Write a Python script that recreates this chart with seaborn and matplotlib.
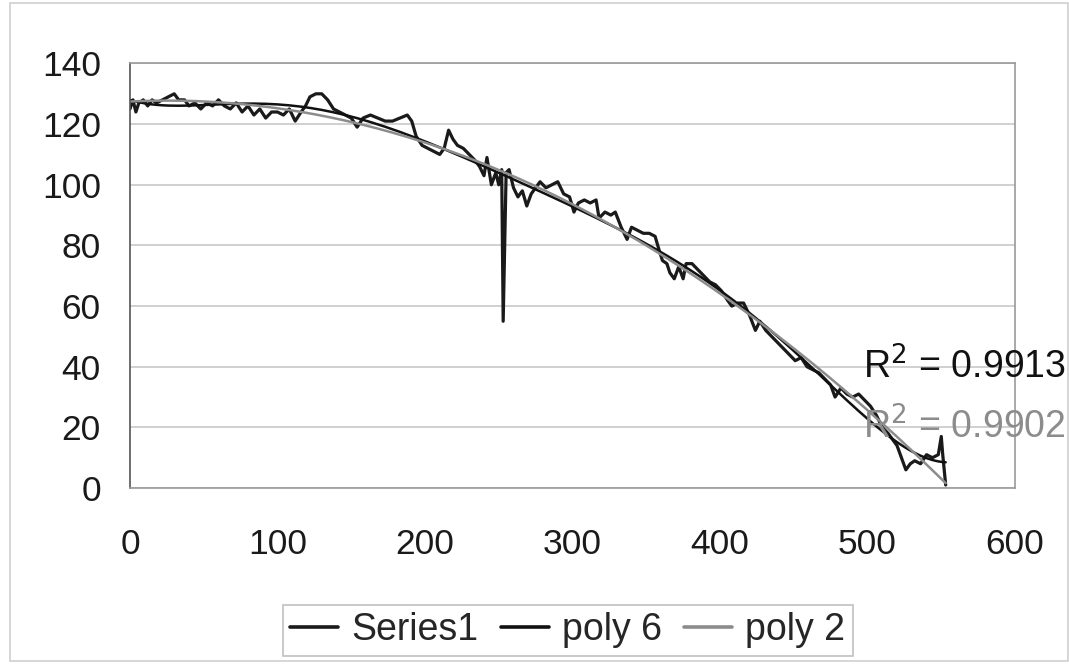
"""
Series1 with polynomial trendlines (poly 6, poly 2), Excel-style chart.
"""

import numpy as np
import pandas as pd
import matplotlib
matplotlib.use("Agg")
import matplotlib.pyplot as plt
import seaborn as sns

# Values
x_vals = [0, 2, 4, 6, 9, 12, 15, 18, 22, 26, 30, 33, 37, 40, 44, 48, 52, 56, 60, 64,
          68, 72, 76, 80, 84, 88, 92, 96, 100, 104, 108, 112, 116, 119, 122, 126, 130,
          134, 138, 142, 146, 150, 154, 158, 163, 168, 173, 178, 183, 188, 191, 194,
          198, 202, 206, 210, 213, 216, 219, 222, 226, 230, 234, 237, 240, 242, 245,
          248, 250, 252, 253, 255, 257, 260, 263, 266, 269, 272, 275, 278, 282, 286,
          290, 294, 298, 301, 304, 308, 312, 316, 318, 322, 326, 329, 333, 337, 340,
          344, 348, 352, 356, 359, 361, 364, 366, 369, 372, 375, 377, 381, 385, 389,
          393, 397, 401, 405, 408, 412, 416, 420, 424, 427, 431, 435, 439, 443, 447,
          451, 455, 459, 463, 467, 471, 475, 478, 482, 486, 490, 494, 498, 502, 506,
          510, 514, 517, 520, 523, 526, 529, 532, 536, 540, 544, 548, 550, 551, 553]
y_vals = [125, 128, 124, 127, 128, 126, 128, 127, 128, 129, 130, 128, 128, 126, 127,
          125, 127, 126, 128, 126, 125, 127, 124, 126, 123, 125, 122, 124, 124, 123,
          125, 121, 124, 126, 129, 130, 130, 128, 125, 124, 123, 122, 119, 122, 123,
          122, 121, 121, 122, 123, 121, 116, 113, 112, 111, 110, 112, 118, 115, 113,
          112, 110, 108, 106, 103, 109, 100, 104, 100, 105, 55, 104, 105, 99, 96, 98,
          93, 97, 99, 101, 99, 100, 101, 97, 96, 91, 94, 95, 94, 95, 89, 91, 90, 91,
          86, 82, 86, 85, 84, 84, 83, 78, 75, 74, 71, 69, 73, 69, 74, 74, 72, 70, 68,
          67, 65, 62, 60, 61, 61, 57, 52, 55, 52, 50, 48, 46, 44, 42, 43, 40, 39, 38,
          36, 34, 30, 33, 31, 30, 31, 29, 27, 24, 20, 18, 16, 14, 10, 6, 8, 9, 8, 11,
          10, 11, 17, 11, 1]

r2_labels = ["R$^2$ = 0.9913", "R$^2$ = 0.9902"]
series_names = ["Series1", "poly 6", "poly 2"]

df = pd.DataFrame({"x": x_vals, "y": y_vals})

# trendlines fitted to the series, like Excel does
xs = np.array(x_vals, dtype=float)
ys = np.array(y_vals, dtype=float)
p6 = np.polynomial.Polynomial.fit(xs, ys, 6)
p2 = np.polynomial.Polynomial.fit(xs, ys, 2)
trend = pd.DataFrame({"x": xs, "poly6": p6(xs), "poly2": p2(xs)})

sns.set_style("white")
plt.rcParams["font.family"] = ["Liberation Sans", "DejaVu Sans"]

fig = plt.figure(figsize=(10.69, 6.64), dpi=100)
ax = fig.add_axes([0.1216, 0.265, 0.8279, 0.6394])

sns.lineplot(data=df, x="x", y="y", ax=ax, color="#1a1a1a", linewidth=2.3,
             estimator=None, label=series_names[0])
sns.lineplot(data=trend, x="x", y="poly6", ax=ax, color="#111111", linewidth=1.8,
             estimator=None, label=series_names[1])
sns.lineplot(data=trend, x="x", y="poly2", ax=ax, color="#8c8c8c", linewidth=1.8,
             estimator=None, label=series_names[2])

ax.set_xlim(0, 600)
ax.set_ylim(0, 140)
ax.set_xticks(range(0, 601, 100))
ax.set_yticks(range(0, 141, 20))
ax.set_xlabel("")
ax.set_ylabel("")
ax.yaxis.grid(True, color="#c8c8c8", linewidth=1.2)
ax.set_axisbelow(True)
ax.tick_params(axis="both", labelsize=25.5, labelcolor="#1a1a1a", direction="out",
               length=7, width=1, color="#808080")
ax.tick_params(axis="y", pad=14)
ax.tick_params(axis="x", pad=22)
for side in ["top", "right", "bottom"]:
    ax.spines[side].set_color("#9a9a9a")
    ax.spines[side].set_linewidth(1.2)
ax.spines["left"].set_color("#555555")
ax.spines["left"].set_linewidth(1.2)

# R^2 labels
ax.text(497, 40, r2_labels[0], fontsize=27, color="#111111", va="center", ha="left",
        clip_on=False)
ax.text(497, 20, r2_labels[1], fontsize=27, color="#8c8c8c", va="center", ha="left",
        clip_on=False)

leg = ax.legend(loc="center", bbox_to_anchor=(0.531, 0.051), bbox_transform=fig.transFigure,
                ncol=3, fontsize=27, frameon=True, fancybox=False, handlelength=1.28,
                handletextpad=0.35, columnspacing=0.59, borderpad=0.2)
leg.get_frame().set_edgecolor("#b0b0b0")
leg.get_frame().set_linewidth(1.2)
for line in leg.get_lines():
    line.set_linewidth(2.6)

# thin frame around the whole chart area
fig.patches.append(plt.Rectangle((0.009, 0.004), 0.99, 0.992, transform=fig.transFigure,
                                 fill=False, edgecolor="#d0d0d0", linewidth=1.2))

fig.savefig("out.png", dpi=100)
